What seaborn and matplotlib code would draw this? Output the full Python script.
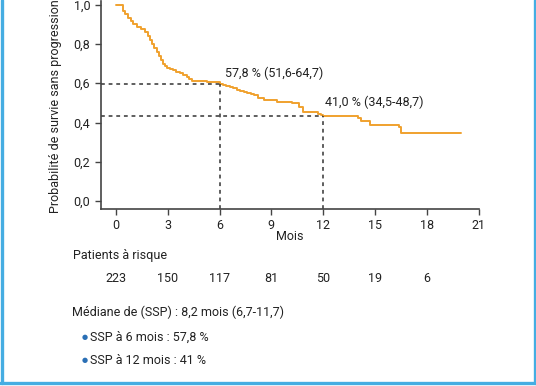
import matplotlib
matplotlib.use("Agg")
import matplotlib.pyplot as plt
import matplotlib.transforms as mtransforms
from matplotlib.lines import Line2D
import seaborn as sns

# Kaplan-Meier steps (months, probability)
months = [0, 0.4, 0.55, 0.7, 0.85, 1.0, 1.2, 1.45, 1.7, 1.85, 1.95, 2.1, 2.2, 2.35,
          2.5, 2.6, 2.7, 2.85, 2.95, 3.15, 3.3, 3.5, 3.7, 3.9, 4.1, 4.25, 4.4,
          5.3, 6.0, 6.2, 6.4, 6.6, 6.8, 7.0, 7.2, 7.4, 7.6, 7.8, 8.0, 8.2, 8.6,
          9.3, 10.2, 10.6, 10.85, 11.7, 11.9, 12.0, 14.0, 14.2, 14.7, 16.4, 16.5, 20.0]
survival = [1.0, 0.97, 0.95, 0.93, 0.915, 0.90, 0.885, 0.875, 0.86, 0.84, 0.82, 0.80,
            0.78, 0.76, 0.74, 0.72, 0.70, 0.69, 0.68, 0.672, 0.665, 0.657, 0.65,
            0.64, 0.63, 0.62, 0.61, 0.605, 0.595, 0.59, 0.585, 0.58, 0.575, 0.568,
            0.56, 0.555, 0.55, 0.545, 0.54, 0.525, 0.515, 0.507, 0.498, 0.48, 0.453,
            0.445, 0.437, 0.433, 0.422, 0.41, 0.388, 0.375, 0.349, 0.349]

landmark_months = [6, 12]
landmark_levels = [0.595, 0.433]
landmark_labels = ["57,8 % (51,6-64,7)", "41,0 % (34,5-48,7)"]
label_pos = [(6.3, 0.653), (12.1, 0.505)]

tick_months = [0, 3, 6, 9, 12, 15, 18, 21]
y_ticks = [0.0, 0.2, 0.4, 0.6, 0.8, 1.0]
y_ticklabels = ["0,0", "0,2", "0,4", "0,6", "0,8", "1,0"]
risk_months = [0, 3, 6, 9, 12, 15, 18]
at_risk = [223, 150, 117, 81, 50, 19, 6]

ORANGE = "#F0A12E"
AXIS = "#444444"
BLUE = "#45ade2"
TXT = "#222222"
FS = 9

sns.set_theme(style="ticks")
plt.rcParams["font.family"] = ["Roboto", "DejaVu Sans"]

W, H = 536, 386
fig = plt.figure(figsize=(W / 100, H / 100), dpi=100)
fig.patch.set_facecolor("white")

# axes placed in pixel terms
left_px, right_px, bottom_px = 100.7, 478.7, 209.0
ymin, ymax = -0.04, 1.02
px_per_unit = 196.5
top_px = bottom_px - (ymax - ymin) * px_per_unit
ax = fig.add_axes([left_px / W, 1 - bottom_px / H,
                   (right_px - left_px) / W, (bottom_px - top_px) / H])
ax.set_facecolor("white")

sns.lineplot(x=months, y=survival, drawstyle="steps-post", color=ORANGE,
             linewidth=1.4, estimator=None, sort=False, ax=ax)

xmin = -0.88
for m, lvl in zip(landmark_months, landmark_levels):
    ax.plot([xmin, m], [lvl, lvl], color="#333333", linestyle=(0, (2.5, 2.5)), linewidth=1.1)
    ax.plot([m, m], [ymin, lvl], color="#333333", linestyle=(0, (2.5, 2.5)), linewidth=1.1)
for (tx, ty), txt in zip(label_pos, landmark_labels):
    ax.text(tx, ty, txt, fontsize=FS, color=TXT, ha="left", va="center")

ax.set_xlim(xmin, 21)
ax.set_ylim(ymin, ymax)
ax.set_xticks(tick_months)
ax.set_yticks(y_ticks)
ax.set_yticklabels(y_ticklabels)
ax.tick_params(axis="both", labelsize=FS, colors=AXIS, labelcolor=TXT,
               length=4, width=1)
ax.tick_params(axis="x", pad=3)
ax.spines["top"].set_visible(False)
ax.spines["right"].set_visible(False)
for s in ["left", "bottom"]:
    ax.spines[s].set_color(AXIS)
    ax.spines[s].set_linewidth(1.2)
ax.spines["bottom"].set_bounds(xmin, 21)

ax.set_xlabel("Mois", fontsize=FS, color=TXT, labelpad=-1)
fig.text(56 / W, 1 - 213 / H, "Probabilité de survie sans progression",
         rotation=90, fontsize=FS, color=TXT, ha="center", va="bottom")

# number at risk table
fig.text(73 / W, 1 - 256 / H, "Patients à risque", fontsize=FS, color=TXT,
         ha="left", va="center")
trans = mtransforms.blended_transform_factory(ax.transData, fig.transFigure)
for m, n in zip(risk_months, at_risk):
    ax.text(m, 1 - 278 / H, str(n), transform=trans, fontsize=FS, color=TXT,
            ha="center", va="center")

fig.text(72 / W, 1 - 312 / H, "Médiane de (SSP) : 8,2 mois (6,7-11,7)", fontsize=FS,
         color=TXT, ha="left", va="center")
for ypx, txt in [(337, "SSP à 6 mois : 57,8 %"), (360, "SSP à 12 mois : 41 %")]:
    fig.text(85 / W, 1 - ypx / H, "●", fontsize=5, color="#2a6fb5", ha="center",
             va="center", family=["DejaVu Sans"])
    fig.text(90 / W, 1 - ypx / H, txt, fontsize=FS, color=TXT, ha="left",
             va="center")

# blue frame (top cropped)
fig.add_artist(Line2D([1.5 / W, 1.5 / W], [1 - 382.5 / H, 1], color=BLUE,
                      linewidth=2.4, transform=fig.transFigure))
fig.add_artist(Line2D([534.5 / W, 534.5 / W], [1 - 382.5 / H, 1], color=BLUE,
                      linewidth=2.4, transform=fig.transFigure))
fig.add_artist(Line2D([0, 1], [1 - 382.5 / H, 1 - 382.5 / H], color=BLUE,
                      linewidth=2.4, transform=fig.transFigure))

fig.savefig("out.png", dpi=100)
